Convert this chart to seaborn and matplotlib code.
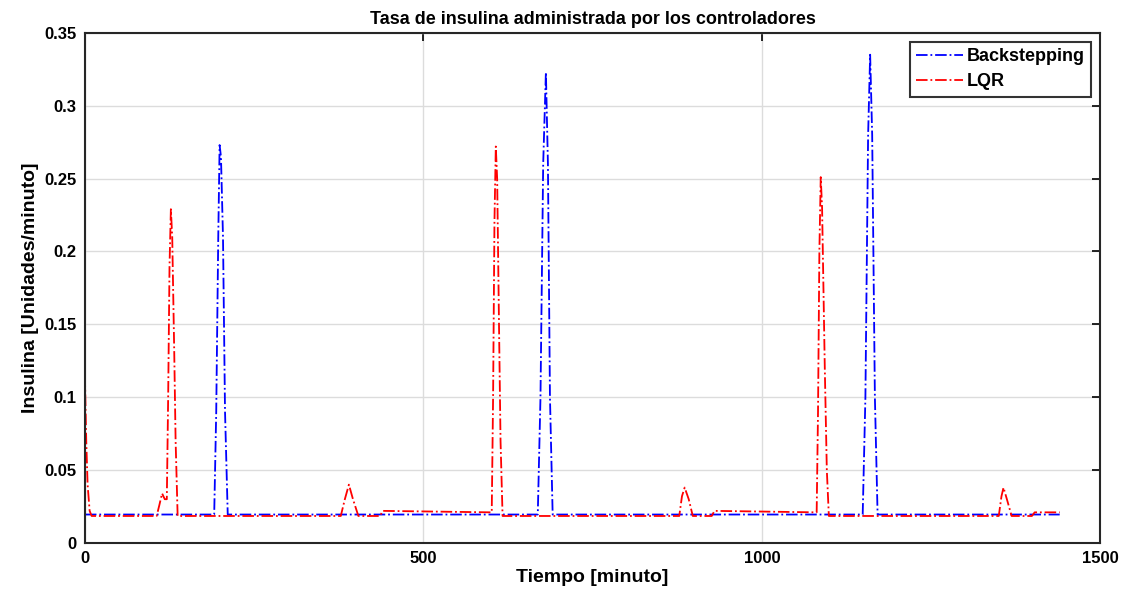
import matplotlib
matplotlib.use("Agg")
import matplotlib.pyplot as plt
import seaborn as sns
import pandas as pd

# tiempos y valores (nodos de la curva)
t_back = [0, 191, 194, 197, 199, 201, 204, 207, 211,
          669, 673, 677, 681, 684, 687, 691,
          1149, 1153, 1157, 1160, 1163, 1167, 1171, 1440]
u_back = [0.0195, 0.0195, 0.09, 0.21, 0.273, 0.265, 0.21, 0.09, 0.0195,
          0.0195, 0.10, 0.26, 0.323, 0.26, 0.10, 0.0195,
          0.0195, 0.10, 0.28, 0.335, 0.28, 0.10, 0.0195, 0.0195]

t_lqr = [0, 2, 4, 7, 10, 106, 110, 114, 118, 121, 123, 125, 127, 129, 132, 134, 137,
         378, 384, 390, 396, 404, 436, 440, 600,
         601, 603, 605, 607, 609, 612, 614, 617,
         878, 882, 886, 892, 898, 926, 930, 1080,
         1081, 1083, 1085, 1087, 1089, 1093, 1096, 1099,
         1350, 1354, 1357, 1362, 1369, 1399, 1403, 1440]
u_lqr = [0.115, 0.07, 0.04, 0.022, 0.0185, 0.0185, 0.026, 0.034, 0.030, 0.030, 0.10, 0.19, 0.229, 0.21, 0.13, 0.07, 0.0185,
         0.0185, 0.030, 0.040, 0.030, 0.0185, 0.0185, 0.022, 0.021,
         0.021, 0.10, 0.22, 0.272, 0.25, 0.14, 0.07, 0.0185,
         0.0185, 0.032, 0.038, 0.030, 0.0185, 0.0185, 0.022, 0.021,
         0.021, 0.09, 0.20, 0.251, 0.23, 0.12, 0.05, 0.0185,
         0.0185, 0.032, 0.038, 0.030, 0.0185, 0.0185, 0.021, 0.021]

sns.set_style("white")
plt.rcParams['font.family'] = ['Liberation Sans', 'DejaVu Sans']
plt.rcParams['font.weight'] = 'bold'
plt.rcParams['text.color'] = 'black'
plt.rcParams['axes.labelcolor'] = 'black'

fig = plt.figure(figsize=(11.32, 6.08), dpi=100)
ax = fig.add_axes([0.075, 0.107, 0.897, 0.839])

df_b = pd.DataFrame({'t': t_back, 'u': u_back})
df_l = pd.DataFrame({'t': t_lqr, 'u': u_lqr})
sns.lineplot(data=df_b, x='t', y='u', ax=ax, sort=False, estimator=None,
             color=(0, 0, 1), linestyle='-.', linewidth=1.3, label='Backstepping')
sns.lineplot(data=df_l, x='t', y='u', ax=ax, sort=False, estimator=None,
             color=(1, 0, 0), linestyle='-.', linewidth=1.3, label='LQR')

ax.set_xlim(0, 1500)
ax.set_ylim(0, 0.35)
ax.set_xticks([0, 500, 1000, 1500])
ax.set_yticks([0, 0.05, 0.1, 0.15, 0.2, 0.25, 0.3, 0.35])
ax.set_yticklabels(['0', '0.05', '0.1', '0.15', '0.2', '0.25', '0.3', '0.35'])
ax.tick_params(direction='in', length=6, width=1.2, labelsize=12, colors='black',
               top=True, right=True, pad=6)
for lab in ax.get_xticklabels() + ax.get_yticklabels():
    lab.set_fontweight('bold')
ax.grid(True, color='#dcdcdc', linewidth=1)
for s in ax.spines.values():
    s.set_color('#262626')
    s.set_linewidth(1.5)

ax.set_xlabel('Tiempo [minuto]', fontsize=14, fontweight='bold', labelpad=2, color='black')
ax.set_ylabel('Insulina [Unidades/minuto]', fontsize=14, fontweight='bold', labelpad=4, color='black')
ax.set_title('Tasa de insulina administrada por los controladores', fontsize=13,
             fontweight='bold', pad=6, color='black')

leg = ax.legend(loc='upper right', fontsize=13, frameon=True, fancybox=False,
                handlelength=2.6, handletextpad=0.2, borderpad=0.35, labelspacing=0.45,
                borderaxespad=0.5)
leg.get_frame().set_edgecolor('black')
leg.get_frame().set_linewidth(1.5)
for txt in leg.get_texts():
    txt.set_fontweight('bold')
    txt.set_color('black')

fig.savefig('out.png', dpi=100)
